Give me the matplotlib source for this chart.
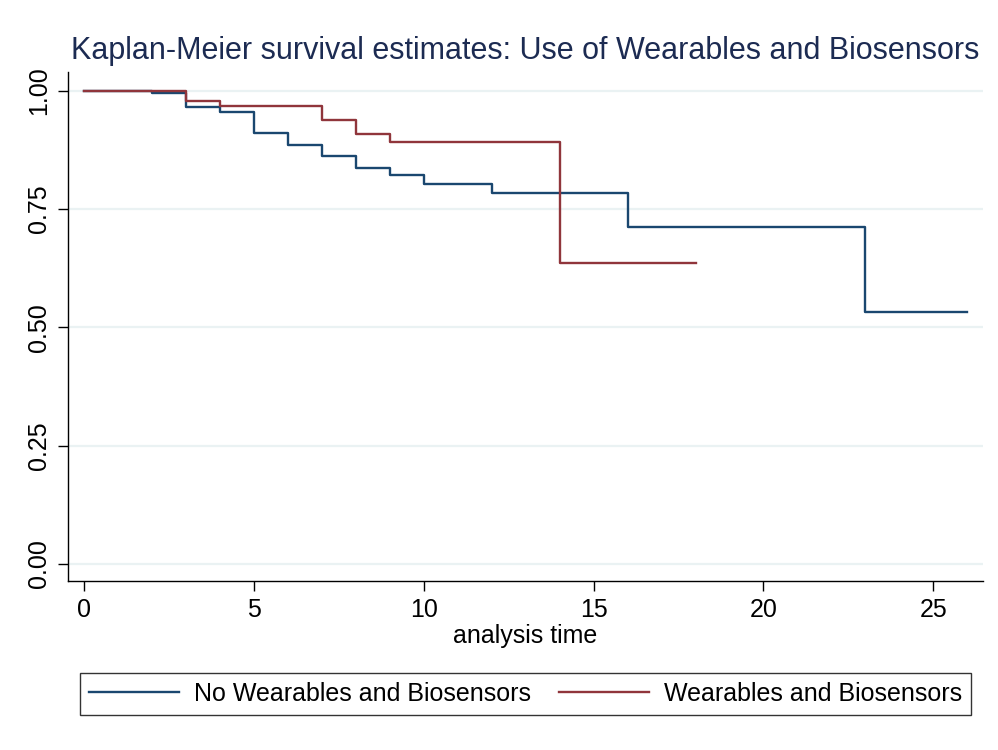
import matplotlib
matplotlib.use('Agg')
import matplotlib.pyplot as plt
import numpy as np

# Kaplan-Meier step values
time_no = [0, 2, 3, 4, 5, 6, 7, 8, 9, 10, 12, 16, 23, 26]
surv_no = [1.0, 0.996, 0.966, 0.954, 0.911, 0.885, 0.861, 0.837, 0.821, 0.802, 0.783, 0.711, 0.533, 0.533]
time_wb = [0, 3, 4, 7, 8, 9, 14, 18]
surv_wb = [1.0, 0.978, 0.968, 0.939, 0.908, 0.891, 0.636, 0.636]

labels = ['No Wearables and Biosensors', 'Wearables and Biosensors']
x_ticks = [0, 5, 10, 15, 20, 25]
y_ticks = [0.0, 0.25, 0.5, 0.75, 1.0]
y_ticklabels = ['0.00', '0.25', '0.50', '0.75', '1.00']

blue = '#1a476f'
red = '#90353b'

plt.rcParams['font.family'] = ['Liberation Sans', 'DejaVu Sans']

fig = plt.figure(figsize=(9.98, 7.5), dpi=100)
ax = fig.add_axes([0.0681, 0.2253, 0.985 - 0.0681, 0.904 - 0.2253])

for yv in y_ticks:
    ax.axhline(yv, color='#eaf2f3', lw=1.6, zorder=0)

ax.step(time_no, surv_no, where='post', color=blue, lw=1.7, label=labels[0])
ax.step(time_wb, surv_wb, where='post', color=red, lw=1.7, label=labels[1])

ax.set_xlim(-0.465, 26.46)
ax.set_ylim(-0.036, 1.0395)
ax.set_xticks(x_ticks)
ax.set_yticks(y_ticks)
ax.set_yticklabels(y_ticklabels, rotation=90, va='center')
ax.tick_params(axis='both', labelsize=18, length=7, width=1, direction='out', pad=5)

for s in ['top', 'right']:
    ax.spines[s].set_visible(False)
for s in ['left', 'bottom']:
    ax.spines[s].set_linewidth(1)

ax.set_xlabel('analysis time', fontsize=18, labelpad=2)
ax.set_title('Kaplan-Meier survival estimates: Use of Wearables and Biosensors',
             fontsize=22, color='#1c2b52', pad=9)

leg = fig.legend(loc='center', bbox_to_anchor=(0.5265, 1 - 694 / 750), ncol=2,
                 fontsize=18, frameon=True, fancybox=False, edgecolor='black',
                 handlelength=3.6, handletextpad=0.6, columnspacing=1.1,
                 borderpad=0.35, borderaxespad=0)
leg.get_frame().set_linewidth(1)

fig.savefig('out.png', dpi=100, facecolor='white')
